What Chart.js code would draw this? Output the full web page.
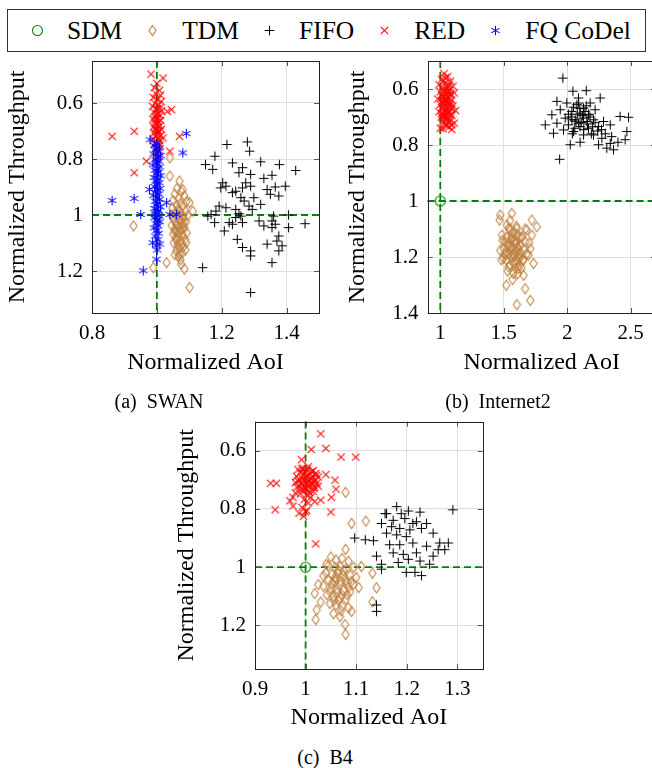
<!DOCTYPE html>
<html>
<head>
<meta charset="utf-8">
<script src="https://cdn.jsdelivr.net/npm/chart.js@4.4.1/dist/chart.umd.min.js"></script>
<style>
  html, body { margin: 0; padding: 0; background: #fff; }
  body { width: 652px; height: 768px; position: relative; overflow: hidden; font-family: "Liberation Serif", "DejaVu Serif", serif; color: #000; }
  canvas.plot { position: absolute; }
  #legend {
    position: absolute; left: 7px; top: 9px; width: 639px; height: 43px;
    box-sizing: border-box; border: 1px solid #333;
    display: flex; align-items: center; padding-left: 22px; white-space: nowrap;
  }
  #legend .item { display: flex; align-items: center; margin-right: 23px; flex-shrink: 0; }
  #legend span { font-size: 25.5px; margin-left: 22px; line-height: 30px; }
  .cap { position: absolute; font-size: 20px; transform: translate(-50%, -50%); white-space: nowrap; }
</style>
</head>
<body>
<div id="legend"></div>
<canvas id="swan" class="plot" width="330" height="380" style="left:0;top:0"></canvas>
<canvas id="internet2" class="plot" width="345" height="380" style="left:330px;top:0"></canvas>
<canvas id="b4" class="plot" width="330" height="340" style="left:170px;top:400px"></canvas>
<div class="cap" style="left:159px;top:401px">(a)&ensp;SWAN</div>
<div class="cap" style="left:498px;top:401px">(b)&ensp;Internet2</div>
<div class="cap" style="left:325px;top:757px">(c)&ensp;B4</div>

<script>
// --- Data (normalized AoI, normalized throughput) ---
const seriesNames = ['SDM', 'TDM', 'FIFO', 'RED', 'FQ CoDel'];
const refAoI = 1;
const refThroughput = 1;

// (a) SWAN
const swanXTicks = [0.8, 1, 1.2, 1.4];
const swanYTicks = [0.6, 0.8, 1, 1.2];
const swanSdm = [[1, 1]];
const swanTdm = [
  [1.040,0.796],[1.040,0.861],[1.070,0.879],[1.080,0.909],[1.101,0.956],[1.111,0.986],[0.928,1.039],
  [0.989,1.188],[1.101,1.259],[1.085,1.193],[1.030,1.170],[1.091,1.099],[1.075,1.176],[1.070,1.140],
  [1.062,0.905],[1.075,0.915],[1.055,0.925],[1.085,0.932],[1.068,0.940],[1.050,0.948],[1.092,0.952],
  [1.072,0.958],[1.060,0.965],[1.080,0.970],[1.048,0.975],[1.066,0.980],[1.088,0.985],[1.057,0.990],
  [1.075,0.995],[1.045,1.000],[1.095,1.002],[1.064,1.006],[1.082,1.010],[1.052,1.015],[1.070,1.019],
  [1.090,1.024],[1.058,1.028],[1.077,1.032],[1.046,1.037],[1.066,1.041],[1.085,1.046],[1.055,1.050],
  [1.073,1.055],[1.062,1.060],[1.092,1.064],[1.050,1.068],[1.080,1.072],[1.068,1.078],[1.058,1.084],
  [1.087,1.088],[1.074,1.094],[1.052,1.100],[1.064,1.106],[1.082,1.112],[1.070,1.120],[1.060,1.128],
  [1.078,1.136],[1.066,1.148],[1.073,1.160],[1.055,1.142],[1.088,1.125],
  [1.065,1.000],[1.072,1.015],[1.060,1.035],[1.078,1.048],[1.068,1.065],[1.062,1.090],[1.075,1.105],
  [1.056,1.060],[1.083,1.030],[1.070,0.985]
];
const swanFifo = [
  [1.216,0.748],[1.279,0.739],[1.286,0.772],[1.179,0.790],[1.150,0.820],[1.172,0.837],[1.233,0.814],
  [1.320,0.810],[1.378,0.820],[1.428,0.841],[1.264,0.831],[1.253,0.849],[1.289,0.855],[1.330,0.869],
  [1.355,0.858],[1.203,0.885],[1.197,0.903],[1.243,0.915],[1.213,0.897],[1.274,0.885],[1.289,0.897],
  [1.264,0.903],[1.396,0.897],[1.365,0.900],[1.340,0.909],[1.350,0.926],[1.233,0.920],[1.259,0.938],
  [1.269,0.950],[1.299,0.938],[1.376,0.932],[1.213,0.974],[1.192,0.968],[1.243,0.980],[1.284,0.968],
  [1.320,0.962],[1.253,0.995],[1.259,1.004],[1.182,0.986],[1.167,0.998],[1.157,1.004],[1.178,1.027],
  [1.208,1.057],[1.233,1.033],[1.264,1.027],[1.360,1.004],[1.406,1.000],[1.330,1.039],[1.355,1.045],
  [1.406,1.045],[1.457,1.031],[1.248,1.087],[1.264,1.116],[1.289,1.128],[1.289,1.146],[1.340,1.104],
  [1.370,1.093],[1.376,1.128],[1.386,1.110],[1.355,1.170],[1.376,1.075],[1.141,1.188],[1.289,1.277],
  [1.223,1.027],[1.315,1.021],[1.355,1.021],[1.365,1.033],[1.243,1.009],[1.294,0.980]
];
const swanRed = [
  [0.982,0.497],[1.019,0.511],[0.862,0.719],[0.930,0.701],[1.070,0.719],[0.930,0.849],[1.045,0.624],
  [1.032,0.630],[1.040,0.772],[0.968,0.808],[1.019,0.725],[1.004,0.796],
  [1.000,0.530],[0.992,0.545],[1.008,0.555],[0.996,0.565],[1.011,0.572],[0.989,0.580],[1.002,0.588],
  [1.013,0.595],[0.994,0.600],[1.006,0.606],[0.987,0.612],[1.009,0.618],[0.999,0.622],[1.014,0.628],
  [0.991,0.633],[1.003,0.638],[1.010,0.644],[0.995,0.648],[1.001,0.653],[0.988,0.658],[1.012,0.662],
  [1.005,0.667],[0.994,0.671],[1.000,0.676],[1.009,0.680],[0.990,0.685],[1.003,0.689],[1.014,0.694],
  [0.997,0.698],[1.006,0.702],[0.992,0.707],[1.001,0.711],[1.011,0.716],[0.996,0.720],[1.005,0.725],
  [0.989,0.730],[1.008,0.734],[1.000,0.739],[0.993,0.745],[1.010,0.750],[1.002,0.756],[0.996,0.762],
  [1.005,0.770],[0.998,0.778],[1.007,0.788],[1.001,0.620],[0.997,0.660],[1.004,0.700],[1.000,0.640],
  [0.995,0.690]
];
const swanCodel = [
  [1.091,0.709],[1.080,0.778],[0.862,0.948],[0.930,0.941],[0.950,0.998],[0.958,1.199],[0.999,1.158],
  [1.009,1.104],[0.987,1.099],[1.040,0.998],[1.060,0.998],[1.030,0.956],[0.979,0.731],[0.977,0.909],
  [1.000,0.745],[0.993,0.752],[1.008,0.760],[0.997,0.768],[1.004,0.775],[0.990,0.782],[1.011,0.788],
  [1.001,0.795],[0.995,0.802],[1.006,0.808],[0.999,0.815],[0.988,0.821],[1.009,0.828],[1.002,0.834],
  [0.994,0.840],[1.005,0.847],[0.998,0.853],[1.012,0.860],[0.991,0.866],[1.003,0.872],[0.997,0.879],
  [1.007,0.885],[1.000,0.892],[0.993,0.898],[1.010,0.905],[1.002,0.911],[0.996,0.918],[1.006,0.925],
  [0.989,0.931],[1.001,0.938],[1.008,0.944],[0.995,0.951],[1.003,0.958],[0.998,0.964],[1.011,0.971],
  [0.992,0.977],[1.005,0.984],[1.000,0.990],[0.996,0.997],[1.007,1.003],[0.993,1.010],[1.002,1.017],
  [1.009,1.024],[0.997,1.031],[1.004,1.038],[0.991,1.046],[1.000,1.055],[1.006,1.065],[0.995,1.075],
  [1.003,1.088],[0.998,1.110],[1.001,1.125]
];

// (b) Internet2
const i2XTicks = [1, 1.5, 2, 2.5];
const i2YTicks = [0.6, 0.8, 1, 1.2, 1.4];
const i2Sdm = [[1, 1]];
const i2Tdm = [
  [1.472,1.050],[1.564,1.044],[1.467,1.068],[1.722,1.068],[1.761,1.092],[1.525,1.086],[1.604,1.098],
  [1.682,1.104],[1.486,1.122],[1.564,1.116],[1.643,1.128],[1.722,1.122],[1.512,1.146],[1.591,1.152],
  [1.669,1.146],[1.472,1.176],[1.551,1.170],[1.630,1.182],[1.709,1.170],[1.499,1.205],[1.577,1.199],
  [1.656,1.211],[1.735,1.223],[1.538,1.235],[1.617,1.241],[1.577,1.259],[1.656,1.265],[1.520,1.301],
  [1.669,1.313],[1.604,1.370],[1.709,1.355],[1.556,1.134],[1.609,1.164],[1.572,1.188],[1.625,1.205],
  [1.538,1.098],[1.696,1.193],[1.591,1.223],[1.512,1.188],[1.586,1.140],[1.620,1.130],[1.545,1.160],
  [1.55,1.10],[1.58,1.11],[1.61,1.12],[1.52,1.13],[1.64,1.13],[1.56,1.14],[1.60,1.15],[1.53,1.16],
  [1.63,1.16],[1.57,1.17],[1.50,1.17],[1.66,1.17],[1.59,1.18],[1.54,1.19],[1.62,1.19],[1.56,1.20],
  [1.60,1.21],[1.52,1.21],[1.65,1.21],[1.58,1.22],[1.55,1.23],[1.62,1.23],[1.59,1.24],[1.57,1.13],
  [1.61,1.17],[1.54,1.15],[1.58,1.19],[1.63,1.20],[1.51,1.19],[1.60,1.09],[1.55,1.07],[1.67,1.10],
  [1.49,1.14],[1.68,1.19],[1.53,1.25],[1.61,1.26],[1.57,1.28],[1.64,1.24],[1.48,1.21],[1.70,1.15]
];
const i2Fifo = [
  [1.966,0.561],[2.045,0.608],[2.150,0.606],[2.260,0.632],[1.919,0.644],[1.997,0.650],[2.076,0.656],
  [2.129,0.668],[1.945,0.674],[2.037,0.680],[2.102,0.686],[2.168,0.692],[2.220,0.674],[1.879,0.692],
  [1.984,0.704],[2.063,0.710],[2.129,0.704],[2.207,0.710],[2.286,0.716],[1.827,0.728],[1.919,0.722],
  [2.010,0.728],[2.102,0.734],[2.168,0.740],[2.247,0.734],[2.339,0.728],[2.417,0.698],[2.483,0.701],
  [1.892,0.758],[2.050,0.752],[2.129,0.764],[2.207,0.764],[2.273,0.776],[2.339,0.794],[2.365,0.817],
  [2.457,0.781],[2.470,0.752],[2.024,0.799],[2.102,0.790],[1.940,0.851],[2.247,0.799],[2.312,0.811],
  [1.971,0.746],[2.089,0.632],[2.181,0.650],[2.037,0.710],[2.089,0.722],[2.155,0.716],
  [2.05,0.665],[2.10,0.670],[2.14,0.680],[2.08,0.690],[2.12,0.695],[2.18,0.700],[2.03,0.700],
  [2.07,0.715],[2.11,0.720],[2.16,0.725],[2.20,0.735],[2.06,0.740],[2.13,0.745],[2.24,0.750],
  [2.30,0.760],[2.19,0.760],[2.01,0.690],[2.15,0.660],[2.09,0.650],[2.22,0.720],[2.27,0.745],
  [2.35,0.770],[2.40,0.790],[2.04,0.760],[2.17,0.690]
];
const i2Red = [
  [1.03,0.545],[1.06,0.555],[1.01,0.565],[1.08,0.572],[1.04,0.578],[0.99,0.585],[1.10,0.590],
  [1.05,0.595],[1.02,0.600],[1.07,0.605],[1.00,0.610],[1.11,0.614],[1.04,0.618],[1.08,0.622],
  [1.02,0.627],[1.06,0.631],[0.98,0.636],[1.09,0.640],[1.03,0.645],[1.05,0.650],[1.00,0.655],
  [1.10,0.660],[1.07,0.664],[1.02,0.668],[1.04,0.673],[1.12,0.677],[0.99,0.681],[1.06,0.686],
  [1.03,0.690],[1.09,0.695],[1.01,0.700],[1.05,0.705],[1.08,0.710],[1.02,0.716],[1.11,0.722],
  [1.04,0.728],[1.07,0.735],[1.00,0.740],[1.09,0.745],[1.05,0.625],[1.03,0.660],[1.07,0.685],
  [1.01,0.645],[1.06,0.612],[1.04,0.700],
  [1.04,0.560],[1.02,0.575],[1.07,0.585],[1.05,0.603],[1.03,0.608],[1.08,0.616],[1.01,0.620],
  [1.06,0.640],[1.04,0.635],[1.02,0.652],[1.08,0.655],[1.05,0.665],[1.03,0.680],[1.06,0.675],
  [1.01,0.688],[1.08,0.692],[1.04,0.695],[1.06,0.712],[1.03,0.720],[1.09,0.728],[1.05,0.732],
  [1.02,0.742],[1.07,0.720],[1.04,0.645],[1.06,0.590],[1.03,0.628],[1.09,0.670],[1.05,0.685],
  [1.02,0.700],[1.07,0.650]
];

// (c) B4
const b4XTicks = [0.9, 1, 1.1, 1.2, 1.3];
const b4YTicks = [0.6, 0.8, 1, 1.2];
const b4Sdm = [[1, 1]];
const b4Tdm = [
  [1.079,0.743],[1.091,0.850],[1.119,0.842],[1.079,0.939],[1.132,1.021],[1.140,1.071],[1.132,1.119],
  [1.079,1.231],[1.020,1.180],[1.018,1.091],[1.022,1.147],[1.041,0.990],[1.091,1.152],[1.110,0.998],
  [1.078,1.197],
  [1.050,0.965],[1.060,0.975],[1.072,0.970],[1.085,0.980],[1.045,0.995],[1.058,1.000],[1.068,0.998],
  [1.080,1.005],[1.095,1.000],[1.040,1.020],[1.052,1.025],[1.063,1.020],[1.075,1.030],[1.088,1.028],
  [1.100,1.035],[1.045,1.045],[1.058,1.050],[1.070,1.048],[1.082,1.055],[1.094,1.060],[1.035,1.065],
  [1.050,1.072],[1.062,1.075],[1.075,1.080],[1.088,1.085],[1.042,1.095],[1.055,1.100],[1.068,1.105],
  [1.080,1.110],[1.048,1.125],[1.060,1.130],[1.072,1.135],[1.085,1.140],[1.055,1.160],[1.068,1.170],
  [1.030,1.120],[1.025,1.060],[1.105,1.070],[1.035,1.030],[1.065,1.010],
  [1.058,1.035],[1.068,1.060],[1.078,1.045],[1.062,1.088],[1.072,1.095],[1.052,1.055],[1.085,1.070],
  [1.065,1.115],[1.075,1.012],[1.048,1.085],[1.090,1.050],[1.056,1.115],[1.070,1.150],[1.082,1.095],
  [1.060,1.040]
];
const b4Fifo = [
  [1.180,0.792],[1.160,0.816],[1.203,0.807],[1.226,0.811],[1.150,0.850],[1.173,0.839],[1.196,0.833],
  [1.219,0.844],[1.239,0.850],[1.291,0.803],[1.186,0.867],[1.206,0.872],[1.229,0.867],[1.160,0.883],
  [1.180,0.889],[1.199,0.895],[1.252,0.883],[1.097,0.900],[1.118,0.906],[1.134,0.909],[1.166,0.923],
  [1.186,0.923],[1.212,0.917],[1.239,0.928],[1.265,0.917],[1.282,0.917],[1.275,0.940],[1.173,0.951],
  [1.193,0.956],[1.219,0.951],[1.252,0.962],[1.140,0.962],[1.183,0.984],[1.203,0.973],[1.226,0.979],
  [1.245,0.990],[1.150,1.007],[1.199,1.018],[1.229,1.029],[1.216,1.018],[1.140,1.130],[1.140,1.152],
  [1.157,0.816],[1.189,0.816],[1.212,0.850],[1.170,0.861],[1.262,0.940],[1.150,0.990]
];
const b4Red = [
  [1.030,0.542],[1.040,0.592],[1.070,0.622],[1.099,0.622],[1.011,0.596],[0.992,0.631],[0.931,0.712],
  [0.942,0.712],[0.940,0.803],[0.969,0.772],[0.975,0.760],[0.980,0.745],[0.987,0.815],[1.020,0.920],
  [1.050,0.811],[1.040,0.682],[1.058,0.701],[1.060,0.732],[1.051,0.760],[1.018,0.775],[1.002,0.805],
  [0.975,0.790],[1.030,0.770],
  [0.985,0.665],[0.995,0.660],[1.005,0.655],[1.015,0.668],[0.990,0.675],[1.000,0.672],[1.010,0.680],
  [1.020,0.678],[0.982,0.688],[0.993,0.690],[1.003,0.686],[1.013,0.692],[1.025,0.690],[0.987,0.700],
  [0.998,0.702],[1.008,0.698],[1.018,0.704],[0.980,0.710],[0.992,0.712],[1.002,0.714],[1.012,0.710],
  [1.022,0.712],[0.988,0.722],[0.998,0.725],[1.008,0.722],[1.018,0.726],[0.995,0.735],[1.005,0.738],
  [1.015,0.740],[0.990,0.748],[1.002,0.752],[1.010,0.760],[0.997,0.768],[1.005,0.780],[0.993,0.795],
  [1.000,0.810],[0.996,0.825],
  [1.000,0.690],[1.006,0.706],[0.996,0.716],[1.010,0.695],[1.004,0.720],[0.994,0.698],[1.014,0.716],
  [1.001,0.730],[0.985,0.705],[1.020,0.700],[1.008,0.745],[0.990,0.735],[1.016,0.730],[0.998,0.680],
  [1.012,0.672],[0.992,0.662],[1.025,0.722],[0.983,0.725],[1.003,0.663],[1.021,0.685]
];

// --- Markers (pgfplots-like) drawn on small canvases, used as pointStyle ---
const GREEN = '#008000';
const MARKER_STYLE = {
  'SDM':      { shape: 'circle',   color: GREEN },
  'TDM':      { shape: 'diamond',  color: '#bf8040' },
  'FIFO':     { shape: 'plus',     color: '#000000' },
  'RED':      { shape: 'x',        color: '#ff0000' },
  'FQ CoDel': { shape: 'asterisk', color: '#0000ff' }
};

function makeMarker(name) {
  const { shape, color } = MARKER_STYLE[name];
  const c = document.createElement('canvas');
  c.width = c.height = 15;
  const ctx = c.getContext('2d');
  ctx.translate(7.5, 7.5);
  ctx.strokeStyle = color;
  ctx.lineWidth = 1.05;
  ctx.beginPath();
  if (shape === 'circle') {
    ctx.arc(0, 0, 5, 0, Math.PI * 2);
  } else if (shape === 'diamond') {
    ctx.moveTo(0, -5); ctx.lineTo(3.6, 0); ctx.lineTo(0, 5); ctx.lineTo(-3.6, 0); ctx.closePath();
  } else if (shape === 'plus') {
    ctx.moveTo(-4.8, 0); ctx.lineTo(4.8, 0); ctx.moveTo(0, -4.8); ctx.lineTo(0, 4.8);
  } else if (shape === 'x') {
    ctx.moveTo(-3.7, -3.7); ctx.lineTo(3.7, 3.7); ctx.moveTo(-3.7, 3.7); ctx.lineTo(3.7, -3.7);
  } else if (shape === 'asterisk') {
    [90, 30, 150].forEach(deg => {
      const a = deg * Math.PI / 180, dx = Math.cos(a) * 4.8, dy = Math.sin(a) * 4.8;
      ctx.moveTo(-dx, -dy); ctx.lineTo(dx, dy);
    });
  }
  ctx.stroke();
  return c;
}

const MARKERS = {};
seriesNames.forEach(n => { MARKERS[n] = makeMarker(n); });

// --- Legend ---
const legendEl = document.getElementById('legend');
seriesNames.forEach(n => {
  const item = document.createElement('div');
  item.className = 'item';
  item.appendChild(makeMarker(n));
  const span = document.createElement('span');
  span.textContent = n;
  item.appendChild(span);
  legendEl.appendChild(item);
});

// --- Plugins ---
const refLines = {
  id: 'refLines',
  beforeDatasetsDraw(chart) {
    const { ctx, chartArea: a, scales: { x, y } } = chart;
    const px = x.getPixelForValue(refAoI);
    const py = y.getPixelForValue(refThroughput);
    ctx.save();
    ctx.strokeStyle = GREEN;
    ctx.lineWidth = 1.8;
    ctx.setLineDash([7, 4]);
    ctx.beginPath();
    ctx.moveTo(px, a.top); ctx.lineTo(px, a.bottom);
    ctx.moveTo(a.left, py); ctx.lineTo(a.right, py);
    ctx.stroke();
    ctx.restore();
  }
};

const frame = {
  id: 'frame',
  afterDraw(chart) {
    const { ctx, chartArea: a, scales: { x, y } } = chart;
    const tl = 5;
    ctx.save();
    ctx.strokeStyle = '#555';
    ctx.lineWidth = 1;
    ctx.beginPath();
    x.ticks.forEach(t => {
      const p = Math.round(x.getPixelForValue(t.value)) + 0.5;
      ctx.moveTo(p, a.top); ctx.lineTo(p, a.top + tl);
      ctx.moveTo(p, a.bottom); ctx.lineTo(p, a.bottom - tl);
    });
    y.ticks.forEach(t => {
      const p = Math.round(y.getPixelForValue(t.value)) + 0.5;
      ctx.moveTo(a.left, p); ctx.lineTo(a.left + tl, p);
      ctx.moveTo(a.right, p); ctx.lineTo(a.right - tl, p);
    });
    ctx.stroke();
    ctx.strokeStyle = '#222';
    ctx.strokeRect(Math.round(a.left) + 0.5, Math.round(a.top) + 0.5,
                   Math.round(a.right - a.left), Math.round(a.bottom - a.top));
    ctx.restore();
  }
};

const toPts = arr => arr.map(([x, y]) => ({ x, y }));
const SERIF = '"Liberation Serif", "Times New Roman", serif';

function makeScatter(id, cfg) {
  const sets = [
    ['SDM', cfg.sdm, 5], ['TDM', cfg.tdm, 4], ['FIFO', cfg.fifo, 3],
    ['RED', cfg.red, 2], ['FQ CoDel', cfg.codel, 1]
  ].filter(s => s[1] && s[1].length);

  const tickFont = { family: SERIF, size: 21 };
  const titleFont = { family: SERIF, size: 24 };
  const fmt = v => String(v);

  return new Chart(document.getElementById(id), {
    type: 'scatter',
    data: {
      datasets: sets.map(([name, data, order]) => ({
        label: name,
        data: toPts(data),
        pointStyle: MARKERS[name],
        pointRadius: 5,
        pointHoverRadius: 5,
        borderWidth: 0,
        order: order
      }))
    },
    options: {
      responsive: false,
      animation: false,
      events: [],
      layout: { padding: cfg.padding },
      plugins: { legend: { display: false }, tooltip: { enabled: false } },
      scales: {
        x: {
          type: 'linear', min: cfg.xMin, max: cfg.xMax,
          afterBuildTicks: s => { s.ticks = cfg.xTicks.map(v => ({ value: v })); },
          afterFit: s => { s.height = cfg.xHeight; },
          grid: { color: '#dedede', drawTicks: false },
          border: { display: false },
          ticks: { font: tickFont, color: '#000', padding: 8, maxRotation: 0, autoSkip: false, callback: fmt },
          title: { display: true, text: 'Normalized AoI', font: titleFont, color: '#000', padding: 0 }
        },
        y: {
          type: 'linear', min: cfg.yMin, max: cfg.yMax, reverse: true,
          afterBuildTicks: s => { s.ticks = cfg.yTicks.map(v => ({ value: v })); },
          afterFit: s => { s.width = cfg.yWidth; },
          grid: { color: '#dedede', drawTicks: false },
          border: { display: false },
          ticks: { font: tickFont, color: '#000', padding: 9, autoSkip: false, callback: fmt },
          title: { display: true, text: 'Normalized Throughput', font: titleFont, color: '#000', padding: 0 }
        }
      }
    },
    plugins: [refLines, frame]
  });
}

makeScatter('swan', {
  sdm: swanSdm, tdm: swanTdm, fifo: swanFifo, red: swanRed, codel: swanCodel,
  xMin: 0.8, xMax: 1.5, yMin: 0.45, yMax: 1.35, xTicks: swanXTicks, yTicks: swanYTicks,
  padding: { left: 3, top: 61, right: 11, bottom: 3 }, yWidth: 89, xHeight: 64
});

makeScatter('internet2', {
  sdm: i2Sdm, tdm: i2Tdm, fifo: i2Fifo, red: i2Red,
  xMin: 0.9, xMax: 2.7, yMin: 0.5, yMax: 1.4, xTicks: i2XTicks, yTicks: i2YTicks,
  padding: { left: 13.6, top: 61, right: 19, bottom: 3 }, yWidth: 84, xHeight: 64
});

makeScatter('b4', {
  sdm: b4Sdm, tdm: b4Tdm, fifo: b4Fifo, red: b4Red,
  xMin: 0.9, xMax: 1.35, yMin: 0.5, yMax: 1.35, xTicks: b4XTicks, yTicks: b4YTicks,
  padding: { left: 2.6, top: 16, right: 17.3, bottom: 7.6 }, yWidth: 82.4, xHeight: 63.4
});
</script>
</body>
</html>
